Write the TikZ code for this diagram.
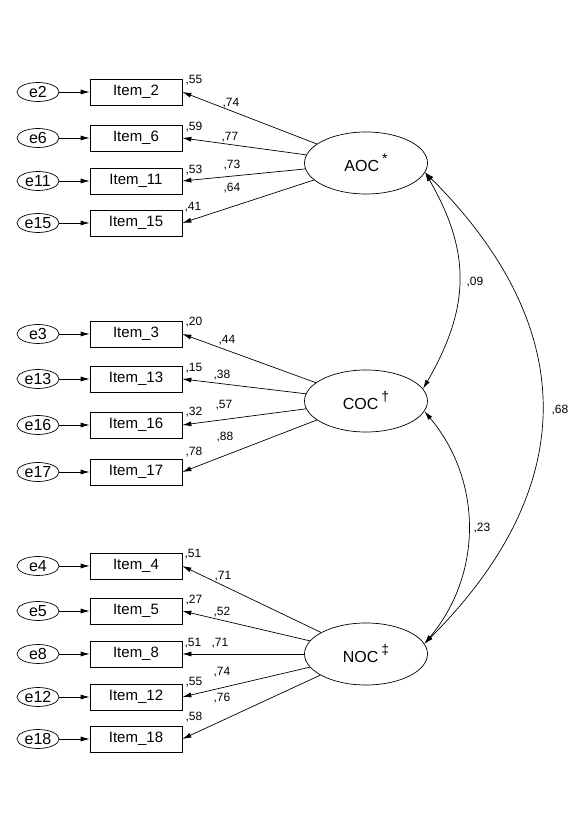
\documentclass[tikz,border=0pt]{standalone}
\usepackage{fontspec}
\setmainfont{Liberation Sans}
\usetikzlibrary{arrows.meta,shapes}

\newcommand{\supsym}[1]{\hspace{3pt}\raisebox{8pt}{\fontsize{14}{14}\selectfont #1}}

\begin{document}
\begin{tikzpicture}[x=1pt,y=1pt,line width=0.7pt,
  >={Latex[length=9pt,width=5pt]},
  lat/.style={draw,ellipse,minimum width=123pt,minimum height=62pt,inner sep=0pt,font=\fontsize{16}{18}\selectfont},
  err/.style={draw,ellipse,minimum width=42pt,minimum height=19pt,inner sep=0pt,font=\fontsize{16}{18}\selectfont},
  obs/.style={draw,rectangle,minimum width=92pt,minimum height=26pt,inner sep=0pt,font=\fontsize{15}{18}\selectfont},
  est/.style={inner sep=0pt,font=\fontsize{12}{14}\selectfont}]
\useasboundingbox (0,0) rectangle (574,820);

\node[lat] (AOC) at (366,657) {AOC\supsym{*}};
\node[lat] (COC) at (366,419) {COC\supsym{†}};
\node[lat] (NOC) at (366,166) {NOC\supsym{‡}};

\node[err] (e2) at (38,728) {e2};    \node[obs] (i2) at (136,728) {Item\_2};
\node[err] (e6) at (38,682) {e6};    \node[obs] (i6) at (136,682) {Item\_6};
\node[err] (e11) at (38,639) {e11};  \node[obs] (i11) at (136,639) {Item\_11};
\node[err] (e15) at (38,597) {e15};  \node[obs] (i15) at (136,597) {Item\_15};

\node[err] (e3) at (38,486) {e3};    \node[obs] (i3) at (136,486) {Item\_3};
\node[err] (e13) at (38,441) {e13};  \node[obs] (i13) at (136,441) {Item\_13};
\node[err] (e16) at (38,395) {e16};  \node[obs] (i16) at (136,395) {Item\_16};
\node[err] (e17) at (38,348) {e17};  \node[obs] (i17) at (136,348) {Item\_17};

\node[err] (e4) at (38,254) {e4};    \node[obs] (i4) at (136,254) {Item\_4};
\node[err] (e5) at (38,209) {e5};    \node[obs] (i5) at (136,209) {Item\_5};
\node[err] (e8) at (38,166) {e8};    \node[obs] (i8) at (136,166) {Item\_8};
\node[err] (e12) at (38,123) {e12};  \node[obs] (i12) at (136,123) {Item\_12};
\node[err] (e18) at (38,81) {e18};   \node[obs] (i18) at (136,81) {Item\_18};

% squared multiple correlations
\node[est] (r2) at (194,740) {,55};
\node[est] (r6) at (194,693) {,59};
\node[est] (r11) at (194,650) {,53};
\node[est] (r15) at (193,613) {,41};
\node[est] (r3) at (194,498) {,20};
\node[est] (r13) at (194,452) {,15};
\node[est] (r16) at (194,408) {,32};
\node[est] (r17) at (194,368) {,78};
\node[est] (r4) at (193,266) {,51};
\node[est] (r5) at (194,220) {,27};
\node[est] (r8) at (193,177) {,51};
\node[est] (r12) at (194,138) {,55};
\node[est] (r18) at (194,103) {,58};

% loadings
\node[est] (l2) at (231,717) {,74};
\node[est] (l6) at (230,683) {,77};
\node[est] (l11) at (232,655) {,73};
\node[est] (l15) at (232,632) {,64};
\node[est] (l3) at (227,480) {,44};
\node[est] (l13) at (222,445) {,38};
\node[est] (l16) at (224,415) {,57};
\node[est] (l17) at (225,383) {,88};
\node[est] (l4) at (223,244) {,71};
\node[est] (l5) at (222,208) {,52};
\node[est] (l8) at (220,177) {,71};
\node[est] (l12) at (222,148) {,74};
\node[est] (l18) at (222,122) {,76};

% covariances
\node[est] (c1) at (475,538) {,09};
\node[est] (c2) at (482,292) {,23};
\node[est] (c3) at (560,410) {,68};

\foreach \n in {2,6,11,15,3,13,16,17,4,5,8,12,18} \draw[->] (e\n) -- (i\n);
\foreach \n in {2,6,11,15} \draw[->] (AOC) -- (i\n.east);
\foreach \n in {3,13,16,17} \draw[->] (COC) -- (i\n.east);
\foreach \n in {4,5,8,12,18} \draw[->] (NOC) -- (i\n.east);

\draw[<->] (AOC.-9) to[out=-60,in=60,looseness=1.1] (COC.12);
\draw[<->] (COC.-10) to[out=-50,in=50] (NOC.10);
\draw[<->] (AOC.-9) to[out=-45,in=45,looseness=1.2] (NOC.10);
\end{tikzpicture}
\end{document}
